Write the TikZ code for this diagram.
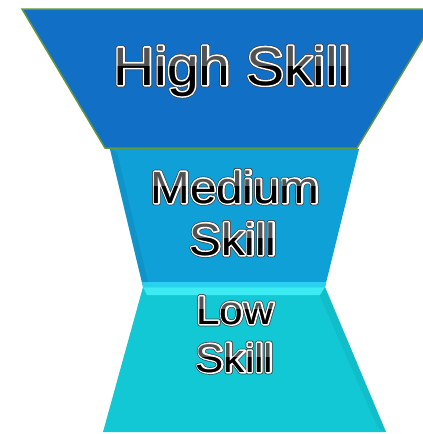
\documentclass[tikz,border=0pt]{standalone}
\usepackage{fontspec}
\setmainfont{Liberation Sans}
\newfontfamily\skillfont[FakeStretch=1.055]{Liberation Sans}
\usetikzlibrary{calc}
\definecolor{topblue}{RGB}{17,112,198}
\definecolor{midblue}{RGB}{16,160,216}
\definecolor{lowcyan}{RGB}{18,200,212}
\definecolor{bandA}{RGB}{40,210,238}
\definecolor{bandB}{RGB}{60,236,242}
\definecolor{edgegreen}{RGB}{100,150,60}
\definecolor{txtgray}{RGB}{82,82,82}
\makeatletter
\newcommand\strokemode{\pgfsys@invoke{1 Tr}}
\newcommand\fillmode{\pgfsys@invoke{0 Tr}}
\makeatother
\tikzset{
  lbl/.style={anchor=base, inner sep=0pt, outer sep=0pt},
}
% #1 name, #2 x, #3 baseline y, #4 font size, #5 cap height, #6 text
\newcommand\glossytext[6]{%
  \node[lbl, text=black!75, line width=4.6pt, line join=round, font=\skillfont\fontsize{#4}{#4}\selectfont] at (#2,#3) {\strokemode #6\fillmode};
  \node[lbl, text=white, line width=3.2pt, line join=round, font=\skillfont\fontsize{#4}{#4}\selectfont] at (#2,#3) {\strokemode #6\fillmode};
  \node[lbl, text=txtgray, font=\skillfont\fontsize{#4}{#4}\selectfont] (#1) at (#2,#3) {#6};
  \begin{scope}
    \clip ($(#2,#3)+(-200,-#5*0.5)$) rectangle ($(#2,#3)+(200,30)$);
    \node[lbl, text=black, font=\skillfont\fontsize{#4}{#4}\selectfont] at (#2,#3) {#6};
  \end{scope}
}
\begin{document}
\begin{tikzpicture}[x=1pt,y=-1pt]
\useasboundingbox (0,0) rectangle (423,434);
% low skill
\fill[lowcyan] (143,287) -- (325,287) -- (386,432) -- (103,432) -- cycle;
\fill[lowcyan!85!black, opacity=0.35] (325,287) -- (386,432) -- (378,428) -- (318,292) -- cycle;
\fill[bandB] (143,287) -- (325,287) -- (320,295) -- (147,295) -- cycle;
% medium skill
\fill[midblue] (110,149) -- (359,149) -- (325,287) -- (143,287) -- cycle;
\fill[bandA] (142,282) -- (326,282) -- (325,287) -- (143,287) -- cycle;
\fill[midblue!80!black, opacity=0.35] (110,149) -- (117,152) -- (148,282) -- (142,282) -- cycle;
% high skill
\draw[edgegreen, line width=1.5pt, fill=topblue] (22,9) -- (441,9) -- (357,148) -- (105,148) -- cycle;
% texts
\glossytext{high}{232}{85}{54}{38}{High Skill}
\glossytext{med1}{235}{203}{45}{33}{Medium}
\glossytext{med2}{233}{255}{45}{33}{Skill}
\glossytext{low1}{235}{324}{40}{29}{Low}
\glossytext{low2}{234.5}{372}{40}{29}{Skill}
\end{tikzpicture}
\end{document}
